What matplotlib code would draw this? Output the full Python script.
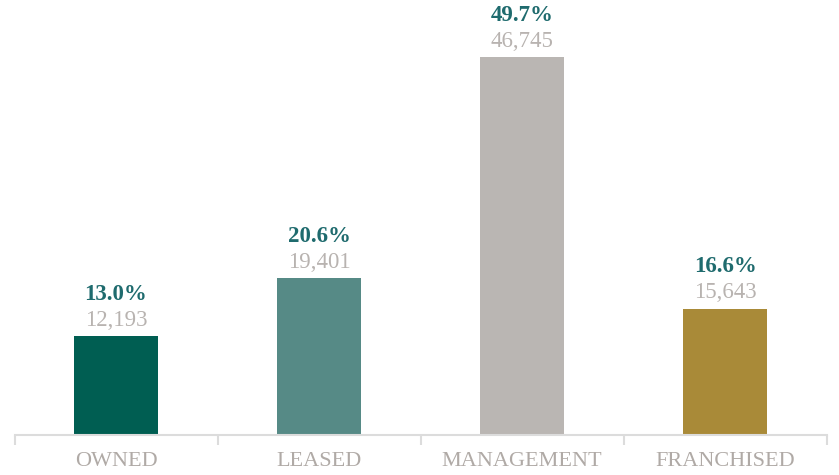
import matplotlib.pyplot as plt

categories = ["OWNED", "LEASED", "MANAGEMENT", "FRANCHISED"]
values = [12193, 19401, 46745, 15643]
shares = [13.0, 20.6, 49.7, 16.6]
bar_colors = ["#005e52", "#568a86", "#bab6b3", "#a98a38"]

plt.rcParams["font.family"] = ["Liberation Serif", "DejaVu Serif"]

fig = plt.figure(figsize=(8.39, 4.75), dpi=100)
ax = fig.add_axes([14.5 / 839, 40 / 475, 812 / 839, 435 / 475])

x = range(len(categories))
bars = ax.bar(x, values, width=0.41, color=bar_colors)

for b, v, s in zip(bars, values, shares):
    cx = b.get_x() + b.get_width() / 2
    top = b.get_height()
    ax.annotate(f"{v:,}", (cx, top), xytext=(0, 16), textcoords="offset pixels",
                ha="center", va="center", fontsize=16.5, color="#b8b3b0")
    ax.annotate(f"{s:.1f}%", (cx, top), xytext=(0, 42), textcoords="offset pixels",
                ha="center", va="center", fontsize=16.5, fontweight="bold",
                color="#1f6b6e")

ax.set_xlim(-0.5, 3.5)
ax.set_ylim(0, 53800)
ax.set_xticks(list(x))
ax.set_xticklabels(categories, fontsize=16, color="#b0aaa6")
ax.tick_params(axis="x", which="major", length=0, pad=12)
ax.set_xticks([-0.5, 0.5, 1.5, 2.5, 3.5], minor=True)
ax.tick_params(axis="x", which="minor", length=7, width=1.5, color="#dcdcdc")
ax.set_yticks([])
for side in ["top", "right", "left"]:
    ax.spines[side].set_visible(False)
ax.spines["bottom"].set_color("#dcdcdc")
ax.spines["bottom"].set_linewidth(1.5)

fig.savefig("out.png", dpi=100)
